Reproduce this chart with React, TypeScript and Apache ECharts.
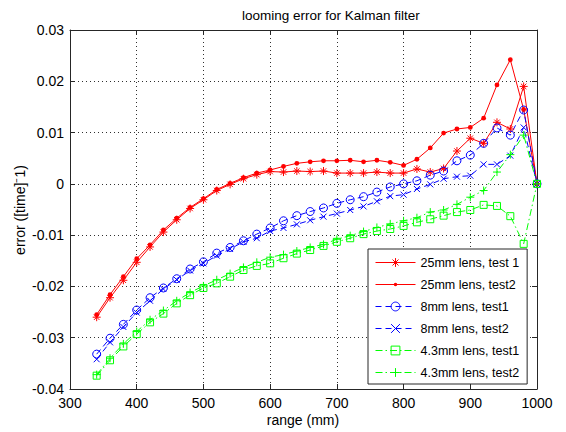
import React, { useEffect, useRef } from "react";
import * as echarts from "echarts";

const rangeMm = [340, 360, 380, 400, 420, 440, 460, 480, 500, 520, 540, 560, 580, 600, 620, 640, 660, 680, 700, 720, 740, 760, 780, 800, 820, 840, 860, 880, 900, 920, 940, 960, 980, 1000];

const lens25Test1 = [-0.0260, -0.0222, -0.0188, -0.0153, -0.0123, -0.0094, -0.0070, -0.0048, -0.0031, -0.0013, -0.0001, 0.0010, 0.0018, 0.0024, 0.0023, 0.0025, 0.0024, 0.0025, 0.0021, 0.0021, 0.0021, 0.0023, 0.0021, 0.0021, 0.0029, 0.0023, 0.0030, 0.0064, 0.0089, 0.0079, 0.0120, 0.0107, 0.0190, 0.0000];
const lens25Test2 = [-0.0255, -0.0216, -0.0181, -0.0146, -0.0119, -0.0090, -0.0067, -0.0046, -0.0029, -0.0011, 0.0001, 0.0012, 0.0021, 0.0027, 0.0034, 0.0040, 0.0043, 0.0045, 0.0045, 0.0046, 0.0043, 0.0046, 0.0042, 0.0036, 0.0048, 0.0070, 0.0099, 0.0107, 0.0110, 0.0128, 0.0193, 0.0242, 0.0145, 0.0000];
const lens8Test1 = [-0.0332, -0.0301, -0.0274, -0.0246, -0.0222, -0.0203, -0.0185, -0.0166, -0.0152, -0.0135, -0.0124, -0.0111, -0.0098, -0.0086, -0.0072, -0.0062, -0.0054, -0.0047, -0.0038, -0.0031, -0.0025, -0.0016, -0.0006, 0.0000, 0.0006, 0.0017, 0.0025, 0.0045, 0.0056, 0.0079, 0.0109, 0.0095, 0.0144, 0.0000];
const lens8Test2 = [-0.0342, -0.0309, -0.0279, -0.0251, -0.0228, -0.0205, -0.0187, -0.0169, -0.0155, -0.0140, -0.0127, -0.0113, -0.0106, -0.0092, -0.0086, -0.0079, -0.0071, -0.0064, -0.0058, -0.0051, -0.0044, -0.0034, -0.0024, -0.0021, -0.0010, -0.0001, 0.0010, 0.0014, 0.0016, 0.0038, 0.0038, 0.0055, 0.0110, 0.0000];
const lens43Test1 = [-0.0374, -0.0344, -0.0317, -0.0293, -0.0270, -0.0253, -0.0233, -0.0217, -0.0203, -0.0194, -0.0181, -0.0168, -0.0160, -0.0155, -0.0145, -0.0136, -0.0129, -0.0121, -0.0113, -0.0106, -0.0098, -0.0092, -0.0088, -0.0082, -0.0075, -0.0069, -0.0062, -0.0055, -0.0051, -0.0041, -0.0043, -0.0063, -0.0117, 0.0000];
const lens43Test2 = [-0.0372, -0.0340, -0.0312, -0.0288, -0.0265, -0.0247, -0.0228, -0.0212, -0.0199, -0.0187, -0.0175, -0.0163, -0.0153, -0.0143, -0.0138, -0.0131, -0.0124, -0.0118, -0.0108, -0.0101, -0.0093, -0.0085, -0.0078, -0.0072, -0.0066, -0.0055, -0.0051, -0.0040, -0.0026, -0.0013, 0.0023, 0.0057, 0.0095, 0.0000];

const seriesNames = ["25mm lens, test 1", "25mm lens, test2", "8mm lens, test1", "8mm lens, test2", "4.3mm lens, test1", "4.3mm lens, test2"];

const STAR = "path://M5 0L5 10M0 5L10 5M1.6 1.6L8.4 8.4M1.6 8.4L8.4 1.6";
const CROSS = "path://M0 0L10 10M0 10L10 0";
const PLUS = "path://M5 0L5 10M0 5L10 5";
const DOT = "path://M0 0M10 10M3 5A2 2 0 1 0 7 5A2 2 0 1 0 3 5Z";

const FONT = "'Liberation Sans', Arial, Helvetica, sans-serif";

function pairs(ys: number[]) {
  return rangeMm.map((x, i) => [x, ys[i]]);
}

export default function App() {
  const ref = useRef<HTMLDivElement>(null);
  useEffect(() => {
    if (!ref.current) return;
    const chart = echarts.init(ref.current, undefined, { renderer: "svg" });
    const red = "#ff0000";
    const blue = "#0000ff";
    const green = "#00ff00";
    const DASH = [6, 4];
    const DASHDOT = [7, 3, 1.5, 3];
    const specs = [
      { ys: lens25Test1, color: red, symbol: STAR, size: 8, dash: "solid", filled: false },
      { ys: lens25Test2, color: red, symbol: DOT, size: 12, dash: "solid", filled: true },
      { ys: lens8Test1, color: blue, symbol: "circle", size: 8, dash: DASH, filled: false },
      { ys: lens8Test2, color: blue, symbol: CROSS, size: 6, dash: DASH, filled: false },
      { ys: lens43Test1, color: green, symbol: "rect", size: 7, dash: DASHDOT, filled: false },
      { ys: lens43Test2, color: green, symbol: PLUS, size: 8, dash: DASHDOT, filled: false },
    ];
    const itemStyleOf = (s: any) =>
      s.filled
        ? { color: s.color, borderColor: s.color, borderWidth: 0 }
        : { color: "rgba(0,0,0,0)", borderColor: s.color, borderWidth: 1 };
    const series = specs.map((s, i) => ({
      name: seriesNames[i],
      type: "line",
      data: pairs(s.ys),
      symbol: s.symbol,
      symbolSize: s.size,
      showSymbol: true,
      lineStyle: { color: s.color, width: 1, type: s.dash },
      itemStyle: itemStyleOf(s),
      emphasis: { disabled: true },
      z: 3,
    }));
    const legendData = specs.map((s, i) => ({
      name: seriesNames[i],
      itemStyle: itemStyleOf(s),
      lineStyle: { color: s.color, width: 1, type: s.dash, opacity: 1 },
    }));
    const axisLineStyle = { color: "#262626", width: 1 };
    const gridLine = { show: true, lineStyle: { color: "#303030", width: 1, type: [1, 3] } };
    chart.setOption({
      animation: false,
      backgroundColor: "#ffffff",
      textStyle: { fontFamily: FONT },
      grid: { left: 70, right: 29, top: 30, bottom: 43, containLabel: false },
      xAxis: [
        {
          type: "value",
          position: "bottom",
          min: 300,
          max: 1000,
          interval: 100,
          axisLine: { show: true, onZero: false, lineStyle: axisLineStyle },
          axisTick: { show: true, inside: true, length: 5, lineStyle: axisLineStyle },
          axisLabel: {
            color: "#000",
            fontSize: 14,
            fontFamily: FONT,
            margin: 7,
            formatter: (v: number) => String(Math.round(v)),
          },
          splitLine: gridLine,
        },
        {
          type: "value",
          position: "top",
          min: 300,
          max: 1000,
          interval: 100,
          axisLine: { show: true, onZero: false, lineStyle: axisLineStyle },
          axisTick: { show: true, inside: true, length: 5, lineStyle: axisLineStyle },
          axisLabel: { show: false },
          splitLine: { show: false },
        },
      ],
      yAxis: [
        {
          type: "value",
          position: "left",
          min: -0.04,
          max: 0.03,
          interval: 0.01,
          axisLine: { show: true, onZero: false, lineStyle: axisLineStyle },
          axisTick: { show: true, inside: true, length: 5, lineStyle: axisLineStyle },
          axisLabel: {
            color: "#000",
            fontSize: 14,
            fontFamily: FONT,
            margin: 6,
            formatter: (v: number) => (Math.abs(v) < 1e-9 ? "0" : v.toFixed(2)),
          },
          splitLine: gridLine,
        },
        {
          type: "value",
          position: "right",
          min: -0.04,
          max: 0.03,
          interval: 0.01,
          axisLine: { show: true, onZero: false, lineStyle: axisLineStyle },
          axisTick: { show: true, inside: true, length: 5, lineStyle: axisLineStyle },
          axisLabel: { show: false },
          splitLine: { show: false },
        },
      ],
      legend: {
        show: true,
        orient: "vertical",
        left: 368,
        top: 249,
        itemWidth: 40,
        itemHeight: 11,
        itemGap: 7,
        padding: [6, 8, 4, 7],
        backgroundColor: "#ffffff",
        borderColor: "#262626",
        borderWidth: 1,
        borderRadius: 0,
        selectedMode: false,
        inactiveColor: "#000",
        textStyle: { color: "#000", fontSize: 12.5, fontFamily: FONT, lineHeight: 15 },
        data: legendData,
      },
      graphic: [
        {
          type: "text",
          x: 242,
          y: 15,
          style: {
            text: "looming error for Kalman filter",
            fill: "#000",
            fontSize: 13.5,
            fontFamily: FONT,
            textAlign: "left",
            textVerticalAlign: "middle",
          },
        },
        {
          type: "text",
          x: 303,
          y: 420,
          style: {
            text: "range (mm)",
            fill: "#000",
            fontSize: 14,
            fontFamily: FONT,
            textAlign: "center",
            textVerticalAlign: "middle",
          },
        },
        {
          type: "text",
          x: 20,
          y: 210,
          rotation: Math.PI / 2,
          style: {
            text: "error ([time]\u207B1)",
            fill: "#000",
            fontSize: 14,
            fontFamily: FONT,
            textAlign: "center",
            textVerticalAlign: "middle",
          },
        },
      ],
      series,
    });
    return () => chart.dispose();
  }, []);
  return (
    <div
      ref={ref}
      style={{ position: "fixed", left: 0, top: 0, width: 566, height: 432, background: "#fff" }}
    />
  );
}
